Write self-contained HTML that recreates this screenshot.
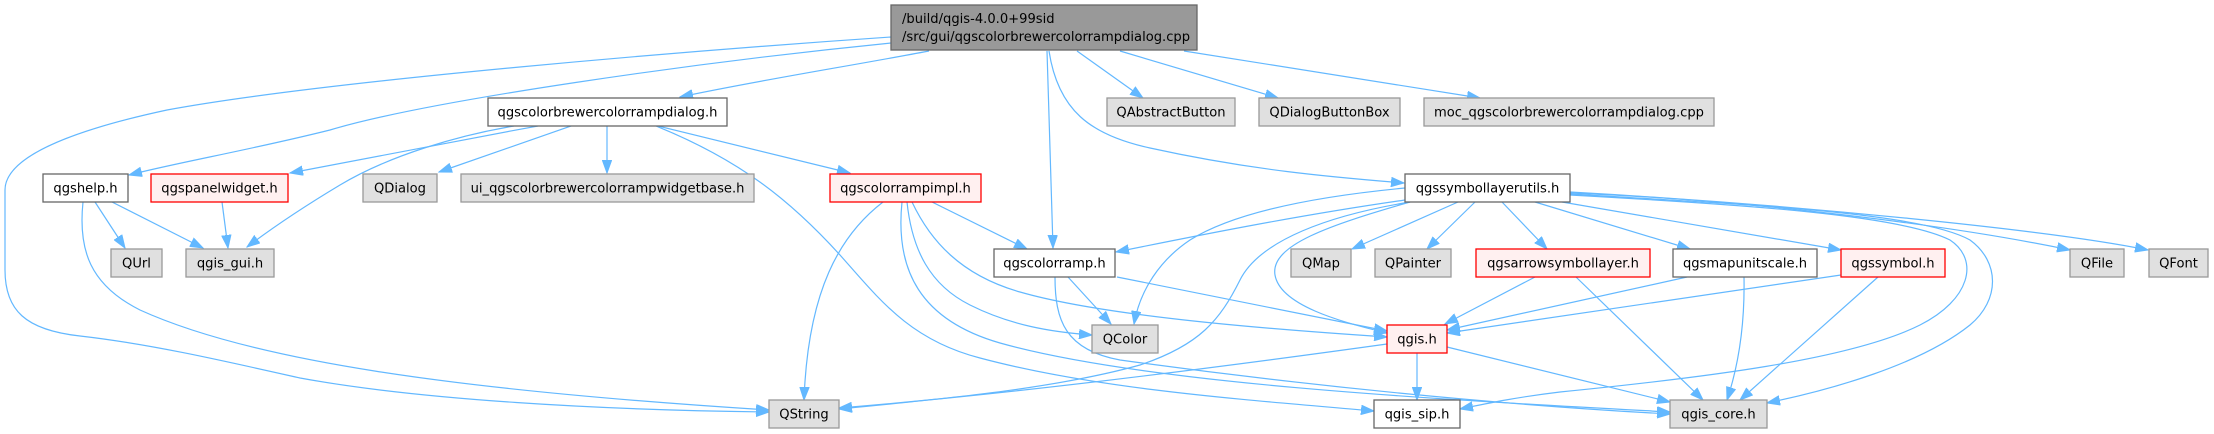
<!DOCTYPE html>
<html><head><meta charset="utf-8"><style>
html,body{margin:0;padding:0;background:#fff;}
svg{display:block;}
text{font-family:"DejaVu Sans","Liberation Sans",sans-serif;font-size:13.1px;fill:#000;}
.e{fill:none;stroke:#63b8ff;stroke-width:1.2;marker-end:url(#ah);}
.w{fill:#fff;stroke:#666;stroke-width:1.3;}
.g{fill:#e0e0e0;stroke:#999;stroke-width:1.3;}
.r{fill:#fff0f0;stroke:#ff0000;stroke-width:1.3;}
.m{fill:#999;stroke:#666;stroke-width:1.3;}
</style></head><body>
<svg width="2214" height="434" viewBox="0 0 2214 434" xmlns="http://www.w3.org/2000/svg">
<defs>
<marker id="ah" markerUnits="userSpaceOnUse" markerWidth="14" markerHeight="10" refX="13" refY="5" orient="auto" viewBox="0 0 14 10">
<path d="M0,0.3 L13,5 L0,9.7 z" fill="#63b8ff" stroke="#63b8ff" stroke-width="1"/>
</marker>
</defs>

<!-- edges -->
<path class="e" d="M891,37 C700,50 330,80 167,110 C60,133 5,160 5,190 L5,270 C5,310 25,330 80,336 C150,344 220,360 300,378 C420,400 600,410 769,412"/>
<path class="e" d="M891,43 C700,62 430,100 330,130 C250,150 180,162 129,175"/>
<path class="e" d="M929,51 C850,66 760,80 680,97"/>
<path class="e" d="M1047,51 C1049,120 1052,200 1053,248"/>
<path class="e" d="M1049,51 C1058,110 1090,135 1150,148 C1250,170 1330,177 1404,183"/>
<path class="e" d="M1077,51 L1143,98"/>
<path class="e" d="M1120,51 L1278,98"/>
<path class="e" d="M1184,51 L1480,98"/>

<path class="e" d="M538,126 C450,142 360,160 290,173"/>
<path class="e" d="M571,126 L439,172"/>
<path class="e" d="M607,126 L607,173"/>
<path class="e" d="M514,126 C460,135 390,155 340,185 C310,203 280,222 247,247"/>
<path class="e" d="M658,126 L850,173"/>
<path class="e" d="M656,126 C740,160 790,200 840,255 C880,300 910,340 980,358 C1100,390 1250,400 1374,411"/>

<path class="e" d="M95,202 L125,248"/>
<path class="e" d="M112,202 L203,248"/>
<path class="e" d="M83,202 C78,250 90,285 140,310 C250,360 450,390 769,410"/>
<path class="e" d="M222,202 L228,248"/>

<path class="e" d="M883,202 C840,235 808,290 804,400"/>
<path class="e" d="M932,202 L1027,249"/>
<path class="e" d="M907,202 C912,250 930,285 970,305 C1010,325 1050,332 1092,335"/>
<path class="e" d="M912,202 C930,240 960,275 1020,292 C1100,315 1250,328 1387,337"/>
<path class="e" d="M902,202 C895,270 920,320 1000,343 C1150,385 1450,400 1670,412"/>

<path class="e" d="M1068,277 L1111,324"/>
<path class="e" d="M1117,277 L1387,331"/>
<path class="e" d="M1055,277 C1055,320 1065,350 1120,360 C1300,385 1500,405 1670,414"/>

<path class="e" d="M1405,200 C1300,215 1200,235 1116,252"/>
<path class="e" d="M1405,188 C1300,198 1230,215 1190,240 C1160,260 1140,290 1134,324"/>
<path class="e" d="M1410,202 C1330,215 1260,240 1240,280 C1220,320 1200,345 1140,365 C1050,390 930,400 839,409"/>
<path class="e" d="M1410,202 C1330,225 1270,245 1275,275 C1280,305 1340,322 1387,333"/>
<path class="e" d="M1458,202 L1352,249"/>
<path class="e" d="M1475,202 L1427,249"/>
<path class="e" d="M1502,202 L1547,249"/>
<path class="e" d="M1535,202 L1690,249"/>
<path class="e" d="M1562,202 L1841,250"/>
<path class="e" d="M1570,193 C1750,200 1950,225 2070,250"/>
<path class="e" d="M1570,192 C1800,205 2050,230 2148,250"/>
<path class="e" d="M1570,194 C1750,205 1920,212 1970,240 C2000,262 2000,300 1970,325 C1920,365 1830,390 1767,403"/>
<path class="e" d="M1570,195 C1750,205 1900,215 1950,240 C1980,260 1970,300 1920,325 C1850,360 1700,378 1560,392 C1510,398 1480,405 1460,409"/>

<path class="e" d="M1535,277 L1445,324"/>
<path class="e" d="M1576,277 L1703,400"/>
<path class="e" d="M1687,277 L1447,330"/>
<path class="e" d="M1744,277 C1745,330 1737,370 1727,400"/>
<path class="e" d="M1841,275 L1447,333"/>
<path class="e" d="M1878,277 L1740,400"/>
<path class="e" d="M1417,353 L1417,400"/>
<path class="e" d="M1447,347 L1670,402"/>
<path class="e" d="M1387,344 C1200,370 1000,395 839,408"/>

<!-- nodes -->
<rect class="m" x="891" y="5" width="306" height="45"/>
<text x="902" y="23">/build/qgis-4.0.0+99sid</text>
<text x="902" y="41">/src/gui/qgscolorbrewercolorrampdialog.cpp</text>

<rect class="w" x="488" y="98" width="239" height="28"/><text x="607.5" y="116.5" text-anchor="middle">qgscolorbrewercolorrampdialog.h</text>
<rect class="g" x="1107" y="98" width="128" height="28"/><text x="1171" y="116.5" text-anchor="middle">QAbstractButton</text>
<rect class="g" x="1259" y="98" width="141" height="28"/><text x="1329.5" y="116.5" text-anchor="middle">QDialogButtonBox</text>
<rect class="g" x="1424" y="98" width="290" height="28"/><text x="1569" y="116.5" text-anchor="middle">moc_qgscolorbrewercolorrampdialog.cpp</text>

<rect class="w" x="43" y="174" width="85" height="28"/><text x="85.5" y="192.5" text-anchor="middle">qgshelp.h</text>
<rect class="r" x="151" y="174" width="137" height="28"/><text x="219.5" y="192.5" text-anchor="middle">qgspanelwidget.h</text>
<rect class="g" x="363" y="174" width="74" height="28"/><text x="400" y="192.5" text-anchor="middle">QDialog</text>
<rect class="g" x="461" y="174" width="293" height="28"/><text x="607.5" y="192.5" text-anchor="middle">ui_qgscolorbrewercolorrampwidgetbase.h</text>
<rect class="r" x="830" y="174" width="151" height="28"/><text x="905.5" y="192.5" text-anchor="middle">qgscolorrampimpl.h</text>
<rect class="w" x="1405" y="174" width="165" height="28"/><text x="1487.5" y="192.5" text-anchor="middle">qgssymbollayerutils.h</text>

<rect class="g" x="111" y="249" width="51" height="28"/><text x="136.5" y="267.5" text-anchor="middle">QUrl</text>
<rect class="g" x="186" y="249" width="88" height="28"/><text x="230" y="267.5" text-anchor="middle">qgis_gui.h</text>
<rect class="w" x="994" y="249" width="121" height="28"/><text x="1054.5" y="267.5" text-anchor="middle">qgscolorramp.h</text>
<rect class="g" x="1291" y="249" width="60" height="28"/><text x="1321" y="267.5" text-anchor="middle">QMap</text>
<rect class="g" x="1375" y="249" width="76" height="28"/><text x="1413" y="267.5" text-anchor="middle">QPainter</text>
<rect class="r" x="1476" y="249" width="174" height="28"/><text x="1563" y="267.5" text-anchor="middle">qgsarrowsymbollayer.h</text>
<rect class="w" x="1673" y="249" width="144" height="28"/><text x="1745" y="267.5" text-anchor="middle">qgsmapunitscale.h</text>
<rect class="r" x="1841" y="249" width="104" height="28"/><text x="1893" y="267.5" text-anchor="middle">qgssymbol.h</text>
<rect class="g" x="2070" y="249" width="54" height="28"/><text x="2097" y="267.5" text-anchor="middle">QFile</text>
<rect class="g" x="2149" y="249" width="59" height="28"/><text x="2178.5" y="267.5" text-anchor="middle">QFont</text>

<rect class="g" x="1092" y="325" width="66" height="28"/><text x="1125" y="343.5" text-anchor="middle">QColor</text>
<rect class="r" x="1387" y="325" width="60" height="28"/><text x="1417" y="343.5" text-anchor="middle">qgis.h</text>

<rect class="g" x="769" y="400" width="70" height="28"/><text x="804" y="418.5" text-anchor="middle">QString</text>
<rect class="w" x="1374" y="400" width="86" height="28"/><text x="1417" y="418.5" text-anchor="middle">qgis_sip.h</text>
<rect class="g" x="1670" y="400" width="97" height="28"/><text x="1718.5" y="418.5" text-anchor="middle">qgis_core.h</text>
</svg>
</body></html>
